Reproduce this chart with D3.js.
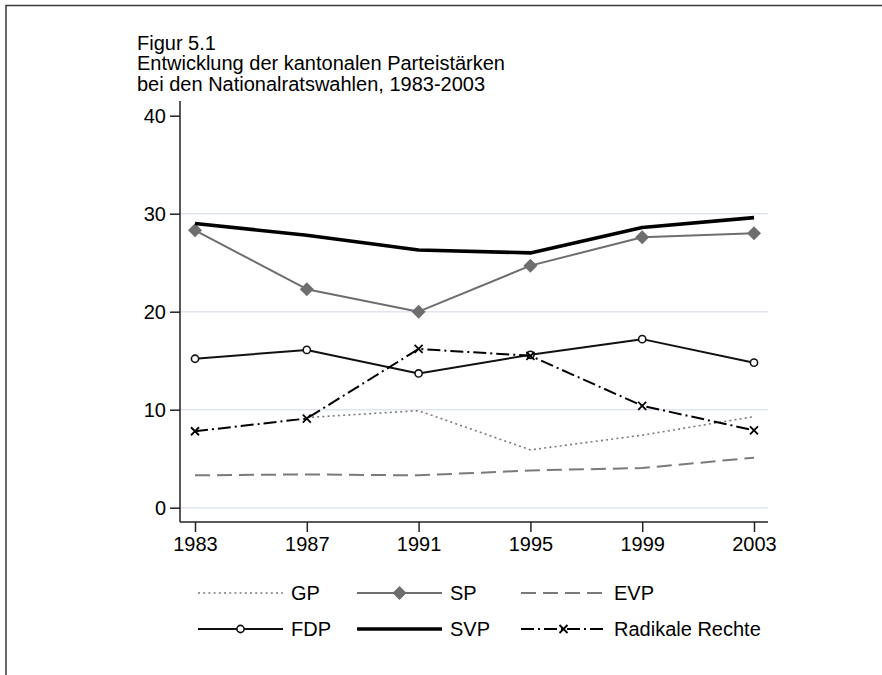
<!DOCTYPE html>
<html><head><meta charset="utf-8">
<script src="https://cdn.jsdelivr.net/npm/d3@7"></script>
<style>
html,body{margin:0;padding:0;background:#fff;}
svg{display:block;font-family:"Liberation Sans",Arial,Helvetica,sans-serif;}
</style></head>
<body>
<script>
const years = [1983, 1987, 1991, 1995, 1999, 2003];
const GP  = [null, 9.2, 9.9, 5.9, 7.4, 9.3];
const SP  = [28.3, 22.3, 20.0, 24.7, 27.6, 28.0];
const EVP = [3.3, 3.4, 3.3, 3.8, 4.05, 5.1];
const FDP = [15.2, 16.1, 13.7, 15.6, 17.2, 14.8];
const SVP = [29.0, 27.8, 26.3, 26.0, 28.6, 29.6];
const RR  = [7.8, 9.1, 16.2, 15.5, 10.4, 7.9];
const yTicks = [0, 10, 20, 30, 40];
const gridTicks = [0, 10, 20, 30];
const titleLines = ["Figur 5.1", "Entwicklung der kantonalen Parteistärken", "bei den Nationalratswahlen, 1983-2003"];

const W = 882, H = 675;
const L = 180, R = 768, T = 101, B = 522;
const svg = d3.select("body").append("svg").attr("width", W).attr("height", H);

// outer frame (only top and left edges visible)
svg.append("path").attr("d", `M6,${H} L6,5.5 L${W},5.5`).attr("fill","none").attr("stroke","#3a3a3a").attr("stroke-width",1.5);

const x = d3.scaleLinear().domain([1983, 2003]).range([L + 15, R - 14]);
const y = d3.scaleLinear().domain([0, 40]).range([507.7, 115.7]);

// title
svg.append("g").selectAll("text").data(titleLines).join("text")
  .attr("x", 137).attr("y", (d, i) => 49.5 + i * 20.7)
  .attr("font-size", 20).attr("fill", "#000").text(d => d);

// grid
svg.append("g").selectAll("line").data(gridTicks).join("line")
  .attr("x1", L).attr("x2", R).attr("y1", d => y(d)).attr("y2", d => y(d))
  .attr("stroke", "#e0e5f1").attr("stroke-width", 1.5);

// axes
const yAxis = d3.axisLeft(y).tickValues(yTicks).tickSize(10).tickPadding(4).tickFormat(d3.format("d"));
const gy = svg.append("g").attr("transform", `translate(${L},0)`).call(yAxis);
gy.select(".domain").remove();
gy.append("line").attr("x1",0).attr("x2",0).attr("y1",T).attr("y2",B).attr("stroke","#222").attr("stroke-width",1.5);
const xAxis = d3.axisBottom(x).tickValues(years).tickSize(10).tickPadding(5).tickFormat(d3.format("d"));
const gx = svg.append("g").attr("transform", `translate(0,${B})`).call(xAxis);
gx.select(".domain").remove();
gx.append("line").attr("x1",L).attr("x2",R).attr("y1",0).attr("y2",0).attr("stroke","#222").attr("stroke-width",1.5);
[gx, gy].forEach(g => {
  g.selectAll(".tick line").attr("stroke", "#222").attr("stroke-width", 1.5);
  g.selectAll(".tick text").attr("font-size", 20).attr("fill", "#000").attr("font-family", '"Liberation Sans",Arial,sans-serif');
});

const series = [
  {name: "GP",  vals: GP,  color: "#7a7a7a", width: 1.6, dash: "2,3.2", marker: null},
  {name: "SP",  vals: SP,  color: "#6e6e6e", width: 2,   dash: null, marker: "diamond"},
  {name: "EVP", vals: EVP, color: "#7a7a7a", width: 2,   dash: "15,7", marker: null},
  {name: "FDP", vals: FDP, color: "#111",    width: 2,   dash: null, marker: "circle"},
  {name: "SVP", vals: SVP, color: "#000",    width: 3.6, dash: null, marker: null},
  {name: "Radikale Rechte", vals: RR, color: "#000", width: 2, dash: "13,4,2,4", marker: "x"}
];

const line = d3.line().defined(d => d.v != null).x(d => x(d.year)).y(d => y(d.v));

function drawMarker(g, type, cx, cy, color) {
  if (type === "diamond") {
    g.append("path").attr("d", `M${cx},${cy-7} L${cx+7},${cy} L${cx},${cy+7} L${cx-7},${cy} Z`).attr("fill", color);
  } else if (type === "circle") {
    g.append("circle").attr("cx", cx).attr("cy", cy).attr("r", 3.6).attr("fill", "#fff").attr("stroke", color).attr("stroke-width", 1.6);
  } else if (type === "x") {
    const s = 4;
    g.append("path").attr("d", `M${cx-s},${cy-s} L${cx+s},${cy+s} M${cx-s},${cy+s} L${cx+s},${cy-s}`).attr("stroke", color).attr("stroke-width", 1.8);
  }
}

const plot = svg.append("g");
series.forEach(s => {
  const data = years.map((yr, i) => ({year: yr, v: s.vals[i]}));
  plot.append("path").datum(data).attr("d", line).attr("fill", "none")
    .attr("stroke", s.color).attr("stroke-width", s.width)
    .attr("stroke-dasharray", s.dash).attr("stroke-linejoin", "round");
  if (s.marker) {
    const mg = plot.append("g");
    data.filter(d => d.v != null).forEach(d => drawMarker(mg, s.marker, x(d.year), y(d.v), s.color));
  }
});

// legend
const colX = [198, 357, 521];
const rowY = [593, 629];
const lg = svg.append("g");
series.forEach((s, i) => {
  const cx = colX[i % 3], cy = rowY[Math.floor(i / 3)];
  lg.append("line").attr("x1", cx).attr("x2", cx + 85).attr("y1", cy).attr("y2", cy)
    .attr("stroke", s.color).attr("stroke-width", s.width).attr("stroke-dasharray", s.dash);
  if (s.marker) drawMarker(lg, s.marker, cx + 42.5, cy, s.color);
  lg.append("text").attr("x", cx + 93).attr("y", cy + 7).attr("font-size", 20).attr("fill", "#000").text(s.name);
});
</script>
</body></html>
